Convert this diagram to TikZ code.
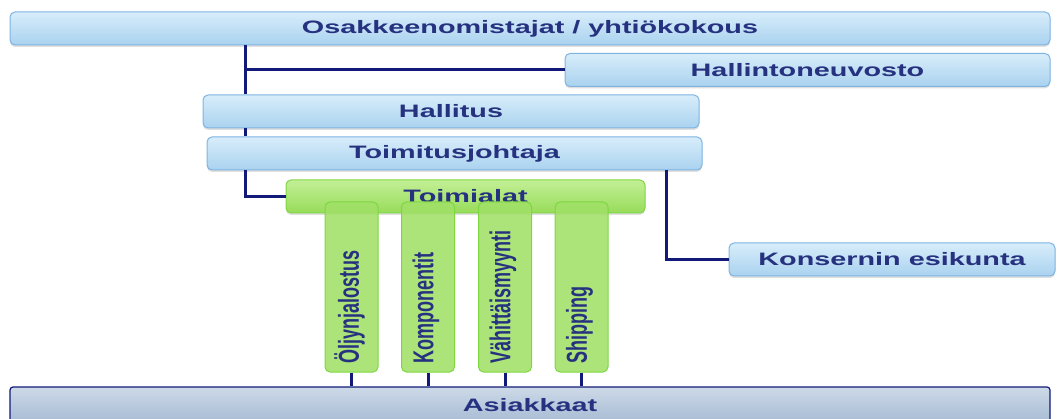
\documentclass[tikz,border=0pt]{standalone}
\usepackage{fontspec}
\usepackage{graphicx}
\usepackage{tikz}
\usetikzlibrary{positioning,calc,shadows}
\newfontfamily\boxfont[FakeStretch=1.6]{Liberation Sans Bold}
\newfontfamily\branchfont{Liberation Sans Bold}
\definecolor{boxtop}{HTML}{D8EDFA}
\definecolor{boxbottom}{HTML}{A9D2EF}
\definecolor{boxedge}{HTML}{7DB4E2}
\definecolor{leaftop}{HTML}{C2EF96}
\definecolor{leafbottom}{HTML}{98DC5A}
\definecolor{leafedge}{HTML}{7ED643}
\definecolor{clienttop}{HTML}{CCD9E8}
\definecolor{clientbottom}{HTML}{A7BBD3}
\definecolor{inknavy}{HTML}{26317F}
\definecolor{linknavy}{HTML}{111A78}
\tikzset{
    organ/.style = {
        draw=boxedge,
        shape=rectangle,
        rounded corners=5pt,
        minimum height=33pt,
        line width=1pt,
        top color=boxtop,
        bottom color=boxbottom,
        drop shadow={shadow xshift=0pt, shadow yshift=-2pt, opacity=0.25},
        inner sep=0pt,
        text=inknavy,
        font=\boxfont\fontsize{18}{20}\selectfont
    },
    division/.style = {
        organ,
        draw=leafedge,
        top color=leaftop,
        bottom color=leafbottom
    },
    branch/.style = {
        draw=leafedge,
        shape=rectangle,
        rounded corners=5pt,
        minimum height=170pt,
        minimum width=53pt,
        line width=1pt,
        fill=leafbottom!80!leaftop,
        fill opacity=0.88,
        inner sep=0pt
    },
    branchtext/.style = {
        rotate=90,
        anchor=west,
        inner sep=0pt,
        text=inknavy,
        font=\branchfont\fontsize{18}{20}\selectfont
    },
    customers/.style = {
        draw=linknavy,
        shape=rectangle,
        rounded corners=3pt,
        minimum height=36pt,
        line width=1.2pt,
        top color=clienttop,
        bottom color=clientbottom,
        inner sep=0pt,
        text=inknavy,
        font=\boxfont\fontsize{18}{20}\selectfont
    },
    link/.style = {
        linknavy,
        line width=3pt
    }
}

\begin{document}
\begin{tikzpicture}[x=1pt, y=-1pt]
    \useasboundingbox (0,0) rectangle (1057,419);
    \clip (0,0) rectangle (1057,419);

    \node[organ, minimum width=1040pt] (owners) at (530,28.5) {Osakkeenomistajat / yhtiökokous};
    \node[organ, minimum width=485pt] (council) at (807.5,70) {Hallintoneuvosto};
    \node[organ, minimum width=496pt] (board) at (451,111.5) {Hallitus};
    \node[organ, minimum width=495pt] (ceo) at (454.5,153.5) {Toimitusjohtaja};
    \node[organ, minimum width=326pt] (staff) at (892,259.5) {Konsernin esikunta};
    \node[division, minimum width=359pt] (divisions) at (465.5,196.5) {Toimialat};
    \node[customers, minimum width=1040pt] (clients) at (530,405) {Asiakkaat};

    \coordinate (trunk) at (245,28.5);
    \coordinate (staffdrop) at (666,153.5);

    \path[draw, link] (owners.south -| trunk) -- (board.north -| trunk);
    \path[draw, link] (council.west -| trunk) -- (council.west);
    \path[draw, link] (board.south -| trunk) -- (ceo.north -| trunk);
    \path[draw, link] (ceo.south -| trunk) |- (divisions.west);
    \path[draw, link] (ceo.south -| staffdrop) |- (staff.west);

    \foreach \name/\x/\txt in {oil/351.5/Öljynjalostus, comp/428/Komponentit, retail/505/Vähittäismyynti, ship/581.5/Shipping} {
        \node[branch] (\name) at (\x,287) {};
        \node[branchtext] (\name-text) at ([xshift=-2pt, yshift=9pt]\name.south) {\scalebox{1}[1.6]{\txt}};
        \path[draw, link] (\name.south) -- (\name.south |- clients.north);
    }
\end{tikzpicture}
\end{document}
